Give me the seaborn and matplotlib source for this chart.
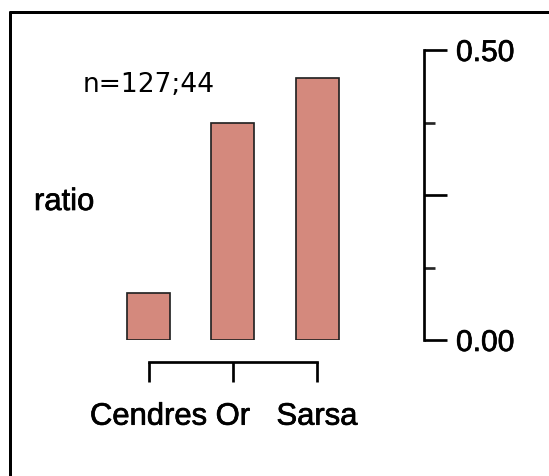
import matplotlib
matplotlib.use("Agg")
import matplotlib.pyplot as plt
import matplotlib.patheffects as pe
from matplotlib.lines import Line2D
import seaborn as sns
import pandas as pd

# Data
categories = ["Cendres", "Or", "Sarsa"]
ratios = [0.0805, 0.374, 0.451]
y_major = [0.0, 0.25, 0.5]
y_major_labels = ["0.00", "", "0.50"]
y_minor = [0.125, 0.375]
sample_note = "n=127;44"
value_label = "ratio"

df = pd.DataFrame({"site": categories, "ratio": ratios})

sns.set_theme(style="white")
plt.rcParams["font.family"] = ["Liberation Sans", "DejaVu Sans"]

W, H, DPI = 549, 476, 72
fig = plt.figure(figsize=(W / DPI, H / DPI), dpi=DPI)
fig.patch.set_facecolor("white")

# slightly heavier text strokes
heavy = [pe.withStroke(linewidth=0.7, foreground="black")]

# axes box in pixel terms: x 90..424, y (from top) 50..340
ax = fig.add_axes([90 / W, (H - 340) / H, (424 - 90) / W, (340 - 50) / H])
ax.set_facecolor("none")

sns.barplot(data=df, x="site", y="ratio", ax=ax, color="#D4897D",
            saturation=1, width=0.51, edgecolor="#222222", linewidth=1.7)

ax.set_xlim(-0.697, 3.27)
ax.set_ylim(0, 0.5)
ax.set_xlabel("")
ax.set_ylabel("")

# spines
for s in ["left", "top"]:
    ax.spines[s].set_visible(False)
for s in ["right", "bottom"]:
    ax.spines[s].set_visible(True)
    ax.spines[s].set_linewidth(2.7)
    ax.spines[s].set_color("black")
ax.spines["bottom"].set_position(("outward", 21.7))
ax.spines["bottom"].set_bounds(0, 2)
ax.spines["right"].set_bounds(0, 0.5)

# y axis on the right
ax.yaxis.tick_right()
ax.set_yticks(y_major)
ax.set_yticklabels(y_major_labels)
ax.set_yticks(y_minor, minor=True)
ax.tick_params(axis="y", which="major", direction="out", length=23, width=2.7,
               pad=9, labelsize=30, colors="black", right=True, left=False)
ax.tick_params(axis="y", which="minor", direction="out", length=11, width=2.7,
               right=True, left=False)

ax.set_xticks(range(len(categories)))
ax.set_xticklabels(categories)
ax.tick_params(axis="x", which="major", direction="out", length=20, width=2.7,
               pad=20, labelsize=31, colors="black", bottom=True)

for lbl in ax.get_xticklabels() + ax.get_yticklabels():
    lbl.set_path_effects(heavy)

# annotations
fig.text(34 / W, (H - 210) / H, value_label, fontsize=31, ha="left",
         va="baseline", color="black", path_effects=heavy)
fig.text(83 / W, (H - 92) / H, sample_note, fontsize=26.5, ha="left",
         va="baseline", color="black", family=["DejaVu Sans"])

# outer frame (open toward right and bottom edges)
fig.add_artist(Line2D([9.5 / W, 9.5 / W], [-0.05, 1 - 11.5 / H],
                      transform=fig.transFigure, color="black", lw=3))
fig.add_artist(Line2D([9.5 / W, 1.05], [1 - 11.5 / H, 1 - 11.5 / H],
                      transform=fig.transFigure, color="black", lw=3))

fig.savefig("out.png", dpi=DPI, facecolor="white")
